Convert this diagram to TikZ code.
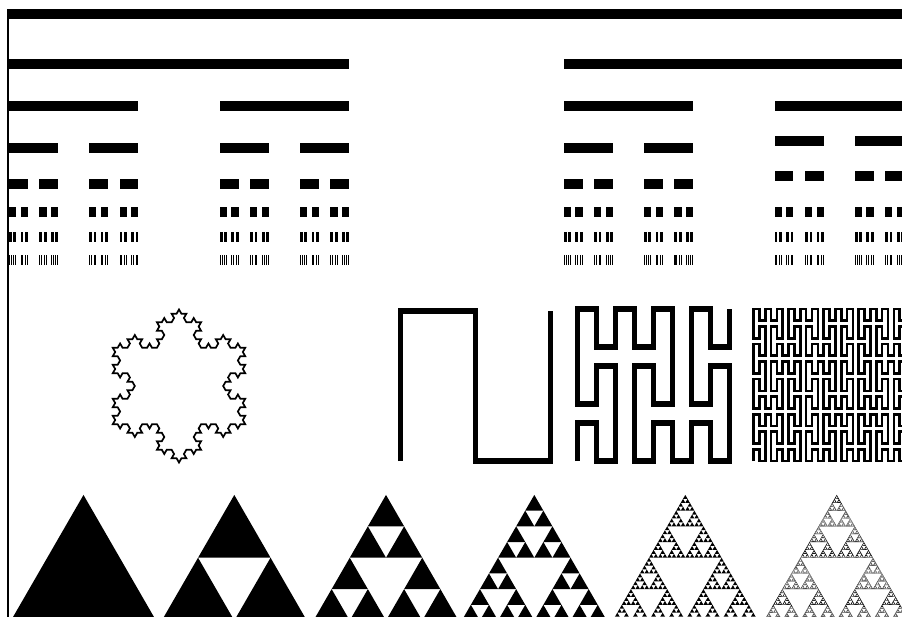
\documentclass[tikz,border=0pt]{standalone}
\usepackage{tikz}
\tikzset{
  cbar/.style={fill=black},
  kochline/.style={draw=black, line width=1.7pt, line join=miter},
  peanoA/.style={draw=black, line width=5.6pt, line join=miter},
  peanoB/.style={draw=black, line width=5.2pt, line join=miter},
  peanoC/.style={draw=black, line width=2.6pt, line join=miter},
  tri/.style={fill=black},
}
% ---------- Cantor set ----------
\newcommand\cantorbar[3]{% level, x, len
  \begingroup
  \edef\yy{\ifcase#1 9\or 59\or 101\or 143\or 179\or 207\or 232\or 255\fi}%
  \ifdim#2pt>700pt
    \ifnum#1=3 \def\yy{136}\fi
    \ifnum#1=4 \def\yy{171}\fi
  \fi
  \fill[cbar] (#2,\yy) rectangle ++(#3,10.5);
  \ifnum#1<7
    \pgfmathsetmacro\nl{#3*0.38}%
    \pgfmathsetmacro\xr{#2+#3-\nl}%
    \edef\next{\noexpand\cantorbar{\the\numexpr#1+1\relax}{#2}{\nl}\noexpand\cantorbar{\the\numexpr#1+1\relax}{\xr}{\nl}}%
  \else
    \let\next\relax
  \fi
  \expandafter\endgroup\next}
% ---------- Koch ----------
\newcommand\kochseg[5]{%
  \ifnum#1=0
    \xdef\kp{\kp -- (#4,#5)}%
  \else
    \begingroup
    \pgfmathsetmacro\kdx{(#4-#2)/3}%
    \pgfmathsetmacro\kdy{(#5-#3)/3}%
    \pgfmathsetmacro\kax{#2+\kdx}%
    \pgfmathsetmacro\kay{#3+\kdy}%
    \pgfmathsetmacro\kbx{#2+2*\kdx}%
    \pgfmathsetmacro\kby{#3+2*\kdy}%
    \pgfmathsetmacro\kpx{\kax+0.5*\kdx+0.8660254*\kdy}%
    \pgfmathsetmacro\kpy{\kay-0.8660254*\kdx+0.5*\kdy}%
    \edef\klv{\the\numexpr#1-1\relax}%
    \edef\next{\noexpand\kochseg{\klv}{#2}{#3}{\kax}{\kay}\noexpand\kochseg{\klv}{\kax}{\kay}{\kpx}{\kpy}\noexpand\kochseg{\klv}{\kpx}{\kpy}{\kbx}{\kby}\noexpand\kochseg{\klv}{\kbx}{\kby}{#4}{#5}}%
    \expandafter\endgroup\next
  \fi}
% ---------- Peano ----------
\newcommand\pch[2]{\noexpand\peano{\plv}{\the\numexpr\pox+(#1+\pfx*(2-2*#1))*\psz\relax}{\the\numexpr\poy+(#2+\pfy*(2-2*#2))*\psz\relax}{\ifodd#2 \the\numexpr1-\pfx\relax\else\pfx\fi}{\ifodd#1 \the\numexpr1-\pfy\relax\else\pfy\fi}}
\newcommand\peano[5]{%
  \ifnum#1=0
    \xdef\pp{\pp -- (#2,#3)}%
  \else
    \begingroup
    \edef\plv{\the\numexpr#1-1\relax}%
    \edef\psz{\ifcase\plv\space 1\or 3\or 9\or 27\fi}%
    \def\pox{#2}\def\poy{#3}\def\pfx{#4}\def\pfy{#5}%
    \edef\next{\pch00\pch01\pch02\pch12\pch11\pch10\pch20\pch21\pch22}%
    \expandafter\endgroup\next
  \fi}
% ---------- Sierpinski ----------
\newcommand\sierp[4]{% level, left x, base y, side
  \ifnum#1=0
    \fill[tri] (#2,#3) -- ++(#4,0) -- ++(-#4/2,-#4*0.8660254) -- cycle;
  \else
    \begingroup
    \pgfmathsetmacro\shs{#4/2}%
    \pgfmathsetmacro\sxa{#2+\shs}%
    \pgfmathsetmacro\sxb{#2+\shs/2}%
    \pgfmathsetmacro\syb{#3-\shs*0.8660254}%
    \edef\slv{\the\numexpr#1-1\relax}%
    \edef\next{\noexpand\sierp{\slv}{#2}{#3}{\shs}\noexpand\sierp{\slv}{\sxa}{#3}{\shs}\noexpand\sierp{\slv}{\sxb}{\syb}{\shs}}%
    \expandafter\endgroup\next
  \fi}
\begin{document}
\begin{tikzpicture}[x=1pt,y=-1pt]
\useasboundingbox (0,0) rectangle (902,617);
\fill[white] (0,0) rectangle (902,617);
\clip (0,0) rectangle (902,617);
% left border line
\fill[cbar] (7,9) rectangle (9.3,617);
% Cantor set
\cantorbar{0}{9}{895}
% Koch snowflake (level 3)
\xdef\kp{(112.75,347.75)}
\kochseg{3}{112.75}{347.75}{245.25}{347.75}
\kochseg{3}{245.25}{347.75}{179}{462.5}
\kochseg{3}{179}{462.5}{112.75}{347.75}
\edef\tmp{\noexpand\draw[kochline] \kp -- cycle;}\tmp
% Peano curves
\gdef\pp{}\peano{1}{0}{0}{0}{0}
\begin{scope}[shift={(400.3,461.2)}, x=75pt, y=75pt]
\edef\tmp{\noexpand\draw[peanoA] (0,0) \pp;}\tmp
\end{scope}
\gdef\pp{}\peano{2}{0}{0}{0}{0}
\begin{scope}[shift={(577.5,461)}, x=19pt, y=19pt]
\edef\tmp{\noexpand\draw[peanoB] (0,0) \pp;}\tmp
\end{scope}
\gdef\pp{}\peano{3}{0}{0}{0}{0}
\begin{scope}[shift={(753.5,461)}, x=5.846pt, y=5.846pt]
\edef\tmp{\noexpand\draw[peanoC] (0,0) \pp;}\tmp
\end{scope}
% Sierpinski triangles
\sierp{0}{11}{620.5}{145}
\sierp{1}{161.8}{620.5}{145}
\sierp{2}{313.5}{620.5}{145}
\sierp{3}{461.8}{620.5}{145}
\sierp{5}{612.8}{620.5}{145}
\sierp{7}{764.2}{620.5}{145}
\end{tikzpicture}
\end{document}
